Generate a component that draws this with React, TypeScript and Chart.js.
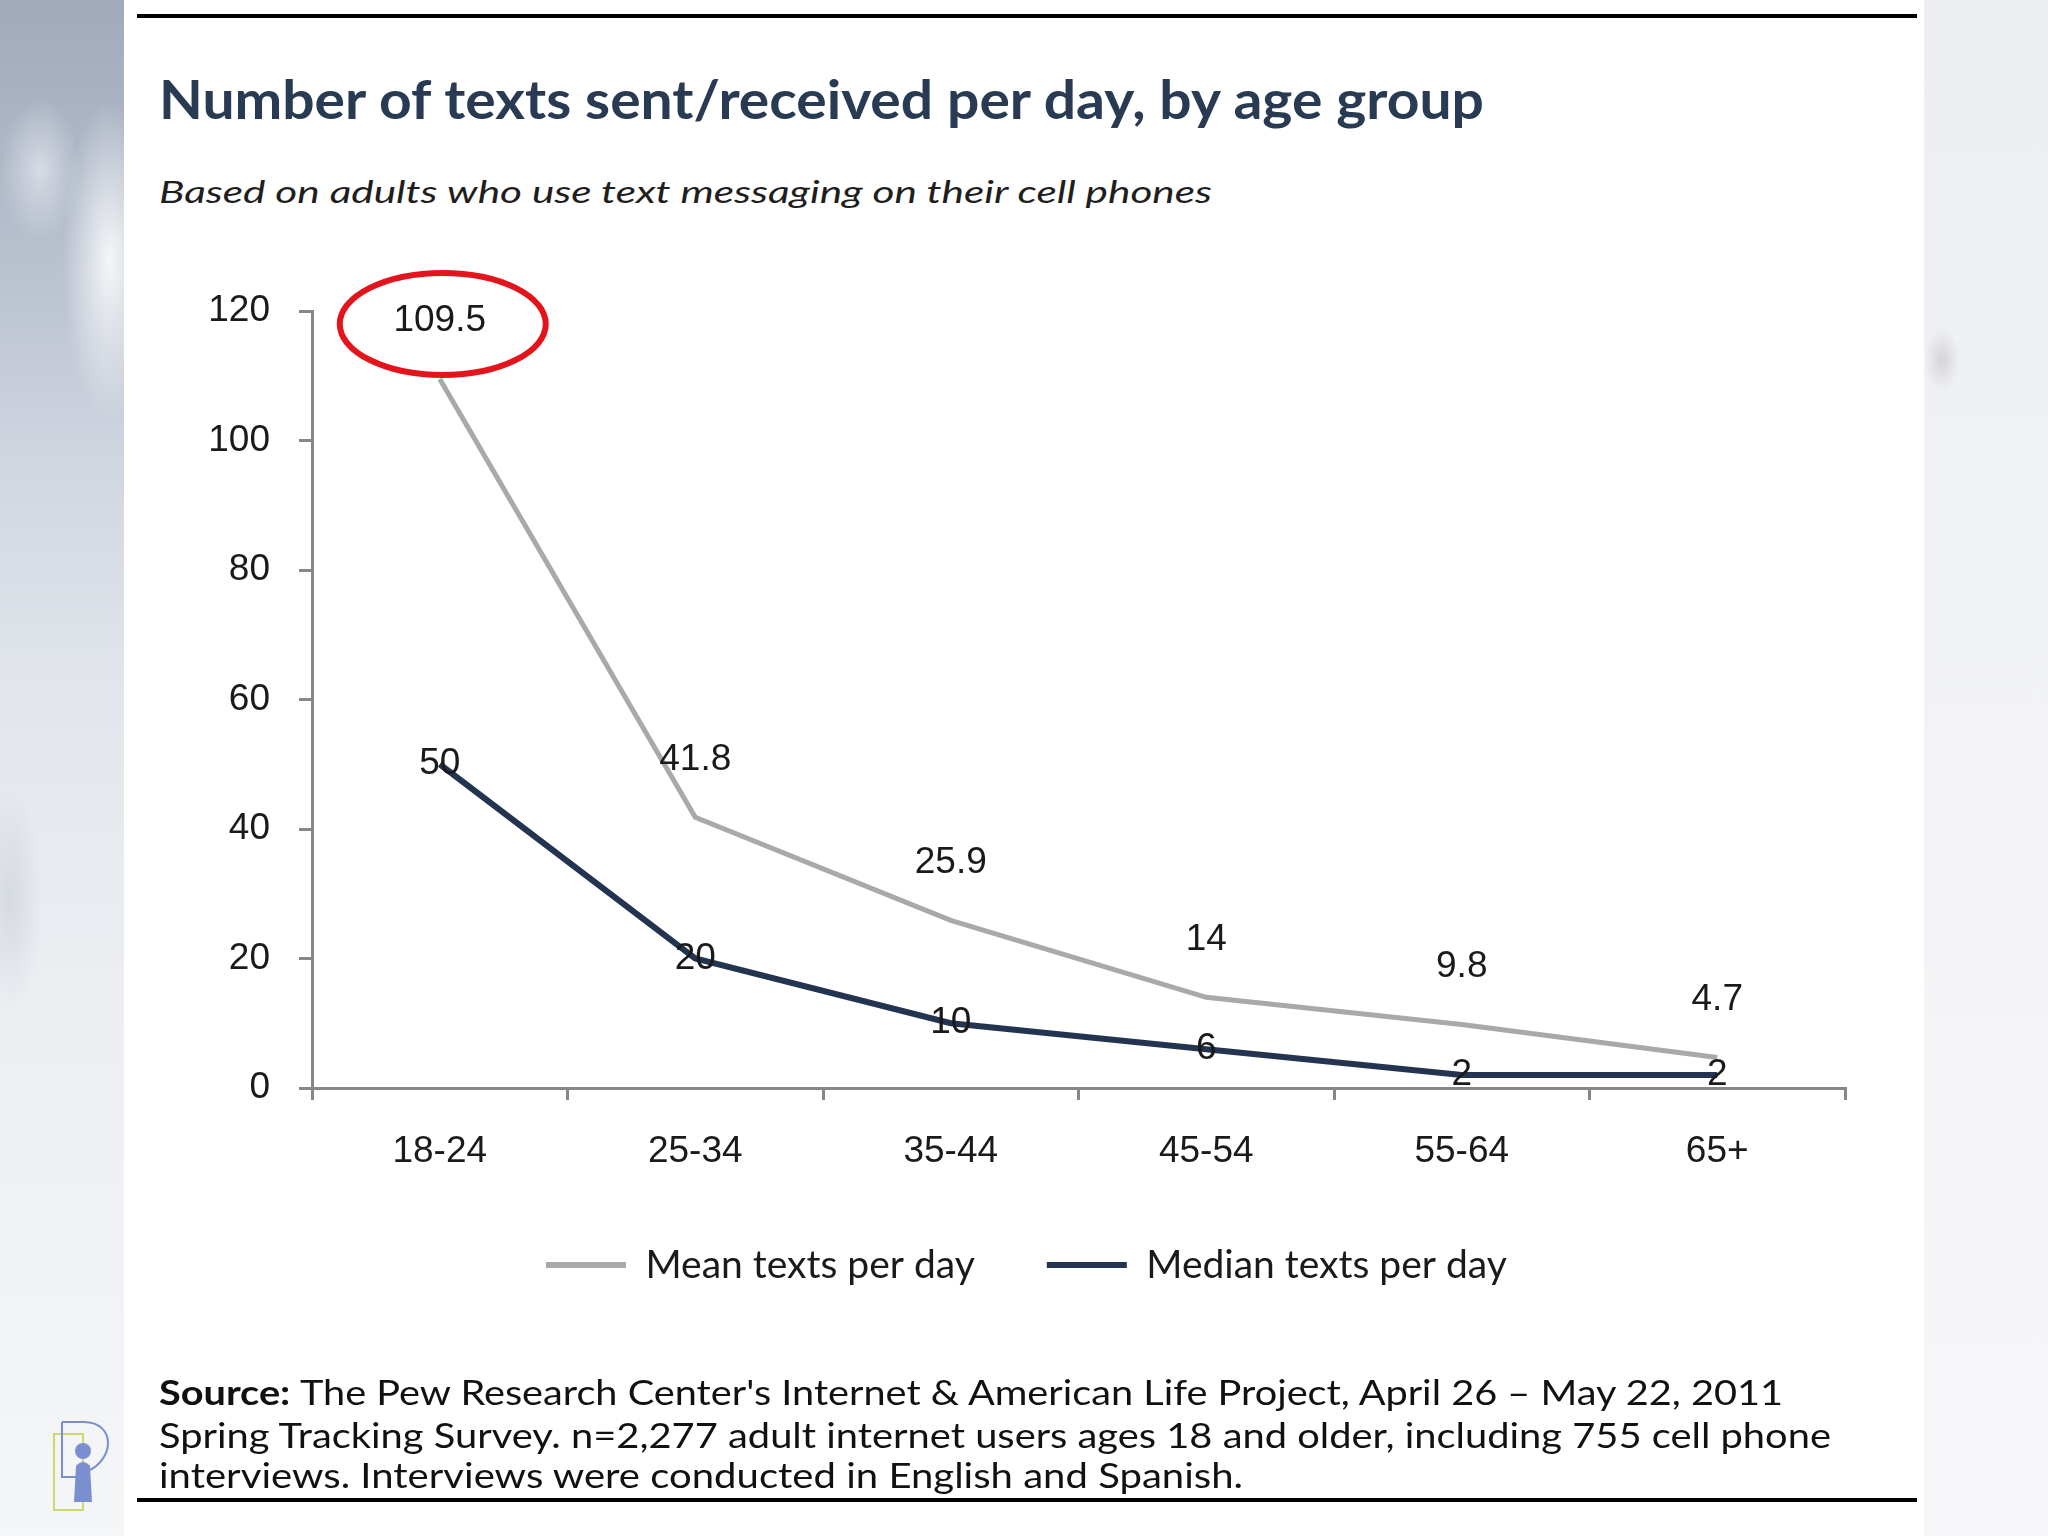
import React, { useEffect, useLayoutEffect, useRef } from "react";
import { Chart, registerables } from "chart.js";

Chart.register(...registerables);

// ---------- data ----------
const categories = ["18-24", "25-34", "35-44", "45-54", "55-64", "65+"];
const meanValues = [109.5, 41.8, 25.9, 14, 9.8, 4.7];
const medianValues = [50, 20, 10, 6, 2, 2];
const seriesLabels = ["Mean texts per day", "Median texts per day"];
const yMin = 0;
const yMax = 120;
const yStep = 20;

const titleText = "Number of texts sent/received per day, by age group";
const subtitleText = "Based on adults who use text messaging on their cell phones";
const sourceLines = [
  "The Pew Research Center's Internet & American Life Project, April 26 \u2013 May 22, 2011",
  "Spring Tracking Survey. n=2,277 adult internet users ages 18 and older, including 755 cell phone",
  "interviews. Interviews were conducted in English and Spanish.",
];

// ---------- styles ----------
const MEAN_COLOR = "#a9a9a9";
const MEDIAN_COLOR = "#22344f";
const AXIS_COLOR = "#878787";
const TEXT_COLOR = "#1a1a1a";
const CHART_FONT = "'Liberation Sans', Arial, sans-serif";
const LEGEND_FONT = "Lato, 'Open Sans', sans-serif";
const LEGEND_SIZE = 39;
const LEGEND_PAD = 72;
const X_AXIS_HEIGHT = 100;

const dataLabelPlugin = {
  id: "dataLabels",
  afterDatasetsDraw(chart: any) {
    const ctx = chart.ctx;
    ctx.save();
    ctx.font = `37px ${CHART_FONT}`;
    ctx.fillStyle = TEXT_COLOR;
    ctx.textAlign = "center";
    ctx.textBaseline = "middle";
    chart.data.datasets.forEach((ds: any, i: number) => {
      const meta = chart.getDatasetMeta(i);
      const dy = i === 0 ? -58 : 0;
      meta.data.forEach((pt: any, j: number) => {
        ctx.fillText(String(ds.data[j]), pt.x, pt.y + dy);
      });
    });
    // highlight ellipse around the first mean value label
    const first = chart.getDatasetMeta(0).data[0];
    if (first) {
      ctx.beginPath();
      ctx.strokeStyle = "#e3141b";
      ctx.lineWidth = 6;
      ctx.ellipse(first.x + 3, first.y - 55, 103, 51, 0, 0, Math.PI * 2);
      ctx.stroke();
    }
    ctx.restore();
  },
};

const legendPlacePlugin = {
  id: "legendPlace",
  afterLayout(chart: any) {
    const lg = chart.legend;
    if (!lg) return;
    const pad = LEGEND_PAD;
    const itemH = LEGEND_SIZE;
    lg.left = 546 - pad;
    lg.right = lg.left + 1500;
    lg.width = 1500;
    lg.top = 1265 - pad - itemH / 2;
    lg.bottom = lg.top + lg.height;
  },
};

function ChartCanvas() {
  const ref = useRef<HTMLCanvasElement | null>(null);
  useEffect(() => {
    if (!ref.current) return;
    const legendHeight = LEGEND_SIZE + LEGEND_PAD + 10;
    const chart = new Chart(ref.current, {
      type: "line",
      data: {
        labels: categories,
        datasets: [
          {
            label: seriesLabels[0],
            data: meanValues,
            borderColor: MEAN_COLOR,
            backgroundColor: MEAN_COLOR,
            borderWidth: 5,
            pointRadius: 0,
            pointHoverRadius: 0,
            tension: 0,
          },
          {
            label: seriesLabels[1],
            data: medianValues,
            borderColor: MEDIAN_COLOR,
            backgroundColor: MEDIAN_COLOR,
            borderWidth: 6,
            pointRadius: 0,
            pointHoverRadius: 0,
            tension: 0,
          },
        ],
      },
      options: {
        responsive: false,
        animation: false,
        devicePixelRatio: 1,
        events: [],
        layout: {
          padding: {
            top: 311,
            left: 0,
            right: 203,
            bottom: 1536 - 1088 - X_AXIS_HEIGHT - legendHeight,
          },
        },
        plugins: {
          tooltip: { enabled: false },
          title: { display: false },
          legend: {
            display: true,
            position: "bottom",
            align: "start",
            labels: {
              boxWidth: 80,
              boxHeight: 6,
              padding: LEGEND_PAD,
              color: TEXT_COLOR,
              font: { family: LEGEND_FONT, size: LEGEND_SIZE },
              generateLabels(chart: any) {
                const items = (Chart.defaults as any).plugins.legend.labels.generateLabels(chart);
                return items.map((it: any) => ({ ...it, lineWidth: 0, fillStyle: it.strokeStyle }));
              },
            },
          },
        },
        scales: {
          x: {
            offset: true,
            grid: {
              offset: true,
              drawOnChartArea: false,
              drawTicks: true,
              tickLength: 12,
              color: AXIS_COLOR,
              lineWidth: 3,
            },
            border: { display: true, color: AXIS_COLOR, width: 3 },
            ticks: {
              color: TEXT_COLOR,
              font: { family: CHART_FONT, size: 37 },
              padding: 30,
              maxRotation: 0,
              autoSkip: false,
            },
            afterFit(scale: any) {
              scale.height = X_AXIS_HEIGHT;
            },
          },
          y: {
            min: yMin,
            max: yMax,
            grid: {
              drawOnChartArea: false,
              drawTicks: true,
              tickLength: 13,
              color: AXIS_COLOR,
              lineWidth: 3,
            },
            border: { display: true, color: AXIS_COLOR, width: 3 },
            ticks: {
              stepSize: yStep,
              color: TEXT_COLOR,
              font: { family: CHART_FONT, size: 37 },
              padding: 29,
            },
            afterFit(scale: any) {
              scale.width = 312;
            },
          },
        },
      } as any,
      plugins: [dataLabelPlugin, legendPlacePlugin],
    });
    return () => chart.destroy();
  }, []);
  return (
    <canvas
      ref={ref}
      width={2048}
      height={1536}
      style={{ position: "absolute", left: 0, top: 0, width: 2048, height: 1536 }}
    />
  );
}

export default function App() {
  const fitRefs = useRef<(HTMLElement | null)[]>([]);
  useLayoutEffect(() => {
    const fit = () => {
      fitRefs.current.forEach((el) => {
        if (!el) return;
        el.style.transform = "none";
        const w = el.getBoundingClientRect().width;
        const t = Number(el.dataset.w);
        if (w > 0 && t > 0) el.style.transform = `scaleX(${t / w})`;
      });
    };
    fit();
    if ((document as any).fonts && (document as any).fonts.ready) {
      (document as any).fonts.ready.then(fit);
    }
  }, []);

  const textBase: React.CSSProperties = {
    position: "absolute",
    display: "inline-block",
    whiteSpace: "nowrap",
    lineHeight: 1,
    transformOrigin: "0 0",
    fontFamily: LEGEND_FONT,
  };

  const sourceTops = [1374, 1417, 1457];
  const sourceWidths = [1624, 1672, 1084];

  return (
    <div
      style={{
        position: "absolute",
        left: 0,
        top: 0,
        width: 2048,
        height: 1536,
        overflow: "hidden",
        background: "#ffffff",
      }}
    >
      {/* left decorative strip */}
      <div
        style={{
          position: "absolute",
          left: 0,
          top: 0,
          width: 124,
          height: 1536,
          background:
            "radial-gradient(ellipse 60px 200px at 110px 260px, rgba(255,255,255,0.85), rgba(255,255,255,0) 80%), radial-gradient(ellipse 50px 90px at 40px 170px, rgba(240,242,246,0.6), rgba(255,255,255,0) 80%), radial-gradient(ellipse 40px 140px at 10px 900px, rgba(200,205,215,0.6), rgba(255,255,255,0) 80%), linear-gradient(180deg, #a0aabb 0%, #b3bcca 14%, #d0d6e0 30%, #e2e6ec 45%, #eceef2 65%, #f5f6f8 100%)",
        }}
      />
      {/* right decorative strip */}
      <div
        style={{
          position: "absolute",
          left: 1924,
          top: 0,
          width: 124,
          height: 1536,
          background:
            "radial-gradient(ellipse 22px 40px at 18px 360px, rgba(205,205,210,0.8), rgba(255,255,255,0) 80%), linear-gradient(180deg, #eceef2 0%, #f1f2f5 40%, #f7f7f9 100%)",
        }}
      />
      {/* rules */}
      <div style={{ position: "absolute", left: 137, top: 14, width: 1780, height: 4, background: "#000" }} />
      <div style={{ position: "absolute", left: 137, top: 1498, width: 1780, height: 4, background: "#000" }} />

      {/* title */}
      <span
        ref={(el) => (fitRefs.current[0] = el)}
        data-w={1325}
        style={{ ...textBase, left: 159, top: 72, fontSize: 53, fontWeight: 700, color: "#283b53" }}
      >
        {titleText}
      </span>
      {/* subtitle */}
      <span
        ref={(el) => (fitRefs.current[1] = el)}
        data-w={1053}
        style={{ ...textBase, left: 159, top: 176, fontSize: 31, fontStyle: "italic", color: "#1e1e1e" }}
      >
        {subtitleText}
      </span>

      <ChartCanvas />

      {/* source */}
      {sourceLines.map((line, i) => (
        <span
          key={i}
          ref={(el) => (fitRefs.current[2 + i] = el)}
          data-w={sourceWidths[i]}
          style={{ ...textBase, left: 159, top: sourceTops[i], fontSize: 35, color: "#111" }}
        >
          {i === 0 ? <b>Source: </b> : null}
          {line}
        </span>
      ))}

      {/* logo */}
      <svg
        style={{ position: "absolute", left: 48, top: 1418 }}
        width={70}
        height={100}
        viewBox="0 0 70 100"
      >
        <rect x={6} y={16} width={29} height={76} fill="none" stroke="#cfd86a" strokeWidth={2} />
        <path
          d="M14 4 L14 59 L30 59 M14 4 L36 4 C52 4 60 14 60 25 C60 38 50 48 42 52"
          fill="none"
          stroke="#7b8fd0"
          strokeWidth={2}
        />
        <circle cx={35} cy={33} r={8} fill="#7b8fd0" />
        <path d="M28 48 Q35 40 42 48 L44 84 L26 84 Z" fill="#7b8fd0" />
      </svg>
    </div>
  );
}
